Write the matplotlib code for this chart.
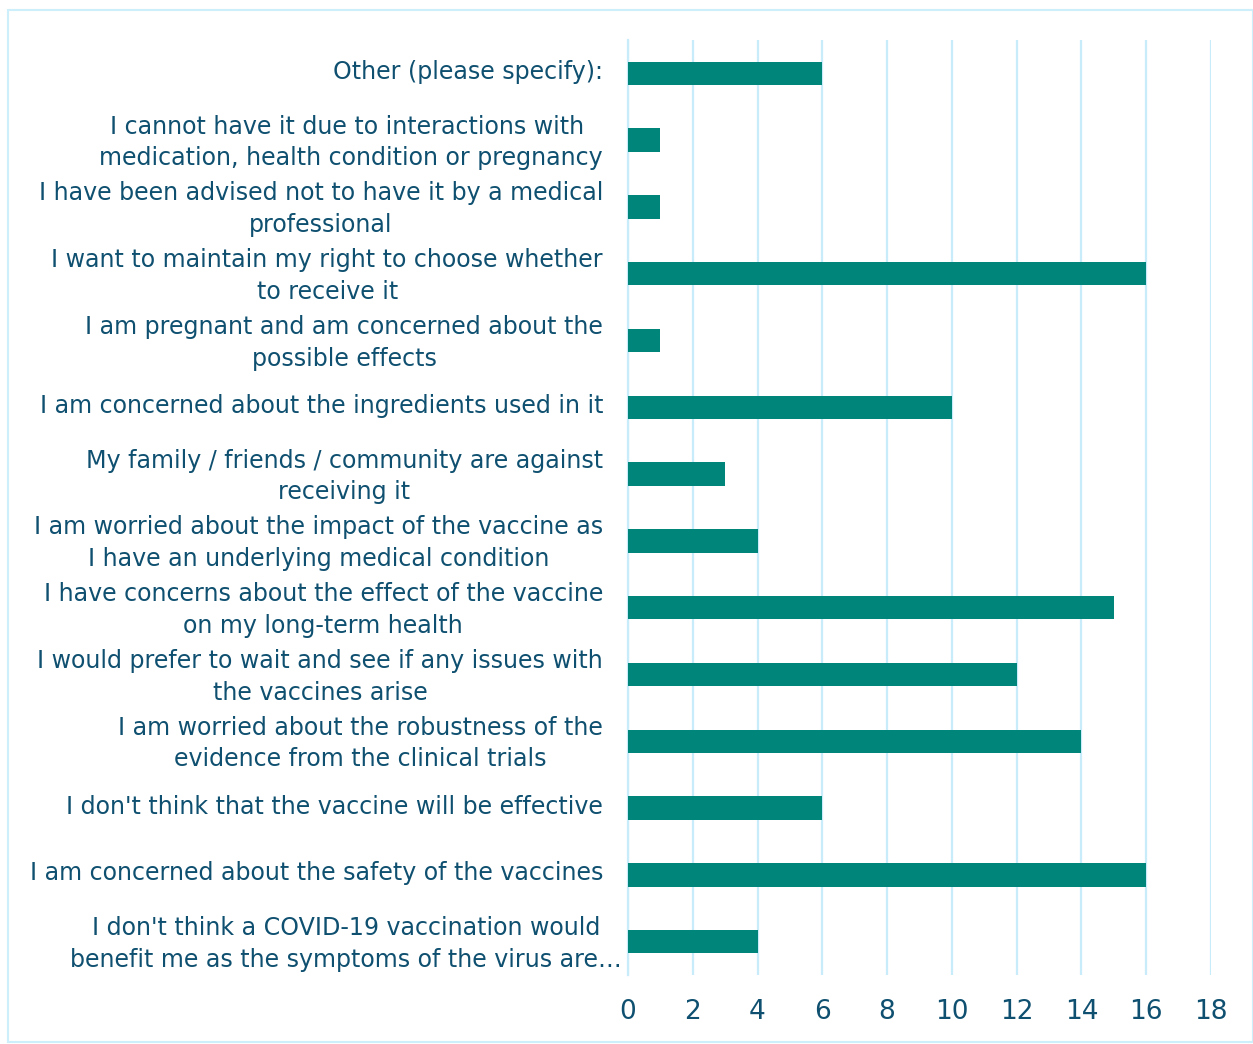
import matplotlib
matplotlib.use("Agg")
from matplotlib import pyplot as plt
from matplotlib.patches import Rectangle
from matplotlib.transforms import ScaledTranslation

# reasons, listed top to bottom as in the chart
reasons = [
    "Other (please specify):",
    "I cannot have it due to interactions with \nmedication, health condition or pregnancy",
    "I have been advised not to have it by a medical\nprofessional",
    "I want to maintain my right to choose whether\nto receive it",
    "I am pregnant and am concerned about the\npossible effects",
    "I am concerned about the ingredients used in it",
    "My family / friends / community are against\nreceiving it",
    "I am worried about the impact of the vaccine as\nI have an underlying medical condition",
    "I have concerns about the effect of the vaccine\non my long-term health",
    "I would prefer to wait and see if any issues with\nthe vaccines arise",
    "I am worried about the robustness of the\nevidence from the clinical trials",
    "I don't think that the vaccine will be effective",
    "I am concerned about the safety of the vaccines",
    "I don't think a COVID-19 vaccination would\nbenefit me as the symptoms of the virus are\u2026",
]
counts = [6, 1, 1, 16, 1, 10, 3, 4, 15, 12, 14, 6, 16, 4]
xticks = [0, 2, 4, 6, 8, 10, 12, 14, 16, 18]

bar_color = "#00857A"
text_color = "#0F5070"
grid_color = "#C8ECFA"

plt.rcParams['font.family'] = ['DejaVu Sans']

W, H = 1253, 1044
fig = plt.figure(figsize=(W / 100, H / 100), dpi=100)
ax = fig.add_axes([628 / W, 1 - 975 / H, (1211 - 628) / W, (975 - 40) / H])

ypos = list(range(len(reasons)))
ax.barh(ypos, counts, height=0.35, color=bar_color, zorder=3)
ax.set_ylim(len(reasons) - 0.5, -0.5)
ax.set_xlim(0, 18)
ax.set_xticks(xticks)
ax.set_yticks(ypos)
ax.set_yticklabels(reasons, fontsize=17.1, color=text_color,
                   linespacing=1.4, ha="right", multialignment="center")
ax.tick_params(axis="y", length=0, pad=18)
ax.tick_params(axis="x", length=0, pad=17, labelsize=19, labelcolor=text_color)

# nudge labels up a little; the truncated last one runs past the others
labels = ax.get_yticklabels()
for i, lab in enumerate(labels):
    dx = 0.19 if i == len(labels) - 1 else 0
    lab.set_transform(lab.get_transform() +
                      ScaledTranslation(dx, 0.04, fig.dpi_scale_trans))

ax.grid(axis="x", color=grid_color, linewidth=1.6, zorder=0)
for s in ["top", "right", "bottom"]:
    ax.spines[s].set_visible(False)
ax.spines["left"].set_color(grid_color)
ax.spines["left"].set_linewidth(1.6)

# light outer frame
fig.patches.append(Rectangle((8 / W, 2 / H), (W - 8) / W, (H - 12) / H,
                             transform=fig.transFigure, fill=False,
                             edgecolor="#CDEFFB", linewidth=1.5))

fig.savefig("out.png", dpi=100)
